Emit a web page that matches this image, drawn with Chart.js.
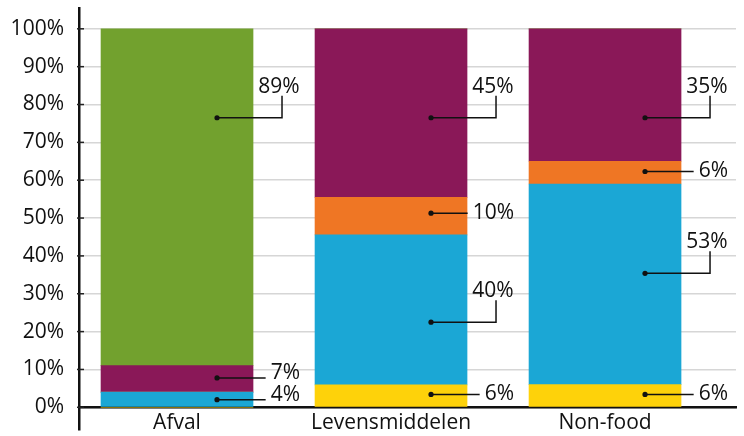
<!DOCTYPE html>
<html>
<head>
<meta charset="utf-8">
<script src="https://cdn.jsdelivr.net/npm/chart.js@4/dist/chart.umd.min.js"></script>
<style>
  html, body { margin: 0; padding: 0; background: #fff; }
  #wrap { width: 744px; height: 436px; position: relative; }
</style>
</head>
<body>
<div id="wrap"><canvas id="chart"></canvas></div>
<script>
// categories and shares (percent, as labelled)
const categories = ['Afval', 'Levensmiddelen', 'Non-food'];
const yellowVals = [0, 6, 6];
const blueVals = [4, 40, 53];
const orangeVals = [0, 10, 6];
const purpleVals = [7, 45, 35];
const greenVals = [89, 0, 0];
const yTicks = [0, 10, 20, 30, 40, 50, 60, 70, 80, 90, 100];

const series = [yellowVals, blueVals, orangeVals, purpleVals, greenVals];
const colors = ['#fed20a', '#1ba7d5', '#ef7624', '#8a1858', '#72a12e'];

// each bar is shown as 100%
const totals = categories.map((c, i) => series.reduce((s, arr) => s + arr[i], 0));

const datasets = series.map((arr, k) => ({
  data: arr.map((v, i) => ({ x: i, y: v / totals[i] * 100 })),
  backgroundColor: colors[k],
  borderWidth: 0,
  barThickness: 152
}));

// leader label placement: dataset, category, anchor value, text shift, elbow
const leaders = [
  { ds: 1, i: 0, at: 2.0, dy: -5 },
  { ds: 3, i: 0, at: 7.75, dy: -5 },
  { ds: 4, i: 0, at: 76.5, elbow: true },
  { ds: 0, i: 1, at: 3.4, dy: 0 },
  { ds: 1, i: 1, at: 22.5, elbow: true },
  { ds: 2, i: 1, at: 51.3, dy: 0 },
  { ds: 3, i: 1, at: 76.5, elbow: true },
  { ds: 0, i: 2, at: 3.4, dy: 0 },
  { ds: 1, i: 2, at: 35.4, elbow: true },
  { ds: 2, i: 2, at: 62.3, dy: 0 },
  { ds: 3, i: 2, at: 76.5, elbow: true }
];

const FAMILY = '"Open Sans", sans-serif';
const FONT = '21px ' + FAMILY;

const leaderPlugin = {
  id: 'leaders',
  afterDatasetsDraw(chart) {
    const ctx = chart.ctx;
    const y = chart.scales.y;
    ctx.save();
    ctx.font = FONT;
    ctx.fillStyle = '#111';
    ctx.strokeStyle = '#111';
    ctx.lineWidth = 1.5;
    ctx.textBaseline = 'middle';
    leaders.forEach(l => {
      const bar = chart.getDatasetMeta(l.ds).data[l.i];
      const dx = bar.x + 40;
      const dyPix = y.getPixelForValue(l.at);
      const text = series[l.ds][l.i] + '%';
      const w = ctx.measureText(text).width;
      const right = dx + 83;
      ctx.beginPath();
      if (l.elbow) {
        const ex = dx + 65;
        ctx.moveTo(dx, dyPix);
        ctx.lineTo(ex, dyPix);
        ctx.lineTo(ex, dyPix - 22);
        ctx.stroke();
        ctx.textAlign = 'center';
        ctx.fillText(text, dx + 62, dyPix - 31);
      } else {
        ctx.moveTo(dx, dyPix);
        ctx.lineTo(right - w - 5, dyPix);
        ctx.stroke();
        ctx.textAlign = 'left';
        ctx.fillText(text, right - w, dyPix + l.dy);
      }
      ctx.beginPath();
      ctx.arc(dx, dyPix, 2.6, 0, Math.PI * 2);
      ctx.fill();
    });
    // small tick marks across the y axis
    const left = chart.chartArea.left;
    ctx.strokeStyle = '#222';
    yTicks.forEach(t => {
      const py = y.getPixelForValue(t);
      ctx.beginPath();
      ctx.moveTo(left - 2, py);
      ctx.lineTo(left + 5, py);
      ctx.stroke();
    });
    ctx.restore();
  }
};

new Chart(document.getElementById('chart'), {
  type: 'bar',
  data: { datasets },
  options: {
    responsive: true,
    maintainAspectRatio: false,
    animation: false,
    layout: { padding: { top: 8, bottom: 6, right: 8, left: 0 } },
    plugins: { legend: { display: false }, tooltip: { enabled: false } },
    scales: {
      x: {
        type: 'linear',
        stacked: true,
        offset: false,
        position: { y: 0 },
        min: -0.458,
        max: 2.612,
        afterBuildTicks: s => { s.ticks = categories.map((c, i) => ({ value: i })); },
        afterFit: s => { s.paddingLeft = 0; s.paddingRight = 0; },
        grid: { display: false, drawTicks: false },
        border: { display: true, color: '#111', width: 2.5 },
        ticks: {
          autoSkip: false,
          maxRotation: 0,
          padding: 3,
          color: '#111',
          font: { family: FAMILY, size: 21 },
          callback: v => categories[v]
        }
      },
      y: {
        stacked: true,
        min: -6,
        max: 105.5,
        afterBuildTicks: s => { s.ticks = yTicks.map(v => ({ value: v })); },
        afterFit: s => { s.width = 79; s.paddingTop = 0; s.paddingBottom = 0; },
        grid: { color: '#d6d6d6', lineWidth: 1.5, drawTicks: false },
        border: { display: true, color: '#111', width: 2.5 },
        ticks: {
          padding: 15,
          color: '#111',
          font: { family: FAMILY, size: 21 },
          callback: v => v + '%'
        }
      }
    }
  },
  plugins: [leaderPlugin]
});
</script>
</body>
</html>
